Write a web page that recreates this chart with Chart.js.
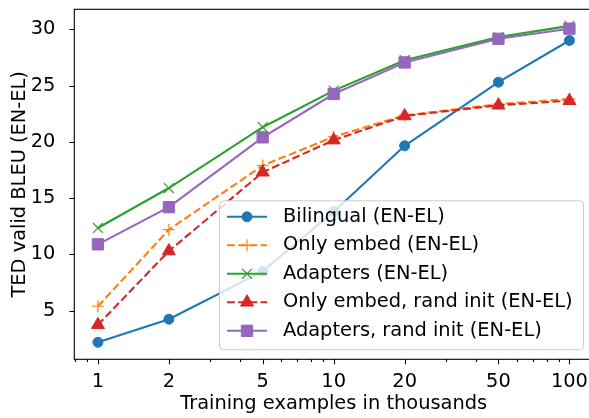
<!DOCTYPE html>
<html>
<head>
<meta charset="utf-8">
<script src="https://cdn.jsdelivr.net/npm/chart.js@4.4.1/dist/chart.umd.min.js"></script>
<style>
  html, body { margin: 0; padding: 0; background: #fff; overflow: hidden; }
  #wrap { width: 589px; height: 418px; overflow: hidden; }
</style>
</head>
<body>
<!-- canvas is a few px wider than the window: the right spine falls just off the picture, as in the original -->
<div id="wrap"><canvas id="chart" width="593" height="418"></canvas></div>
<script>
// x values, thousands of training examples
const examples = [1, 2, 5, 10, 20, 50, 100];

const bilingual     = [2.2, 4.25, 8.5, 13.8, 19.65, 25.3, 29.0];
const onlyEmbed     = [5.4, 12.2, 17.9, 20.45, 22.35, 23.35, 23.8];
const adapters      = [12.35, 15.9, 21.3, 24.55, 27.25, 29.3, 30.3];
const onlyEmbedRand = [3.75, 10.3, 17.3, 20.15, 22.3, 23.25, 23.65];
const adaptersRand  = [10.9, 14.2, 20.4, 24.25, 27.05, 29.15, 30.05];

const seriesLabels = [
    'Bilingual (EN-EL)',
    'Only embed (EN-EL)',
    'Adapters (EN-EL)',
    'Only embed, rand init (EN-EL)',
    'Adapters, rand init (EN-EL)'
];

const xTickValues = [1, 2, 5, 10, 20, 50, 100];
const xMinorTicks = [0.8, 0.9, 3, 4, 6, 7, 8, 9, 30, 40, 60, 70, 80, 90];
const yTickValues = [5, 10, 15, 20, 25, 30];

const FONT = "'DejaVu Sans', sans-serif";
const FSIZE = 19.4;
const DASH = [7.8, 3.4];

Chart.defaults.font.family = FONT;
Chart.defaults.font.size = FSIZE;
Chart.defaults.color = '#000';

function pts(values) {
    return values.map((v, i) => ({x: examples[i], y: v}));
}

const styles = [
    {color: '#1f77b4', pointStyle: 'circle', radius: 5, dash: []},
    {color: '#ff7f0e', pointStyle: 'cross', radius: 6, dash: DASH},
    {color: '#2ca02c', pointStyle: 'crossRot', radius: 7, dash: []},
    {color: '#d62728', pointStyle: 'triangle', radius: 7.5, dash: DASH},
    {color: '#9467bd', pointStyle: 'rect', radius: 8, dash: []}
];

const allSeries = [bilingual, onlyEmbed, adapters, onlyEmbedRand, adaptersRand];

const datasets = allSeries.map((values, i) => ({
    label: seriesLabels[i],
    data: pts(values),
    borderColor: styles[i].color,
    backgroundColor: styles[i].color,
    borderWidth: 2.1,
    borderDash: styles[i].dash,
    pointStyle: styles[i].pointStyle,
    pointRadius: styles[i].radius,
    pointBorderWidth: (styles[i].pointStyle === 'cross' || styles[i].pointStyle === 'crossRot') ? 1.2 : 1,
    pointBackgroundColor: styles[i].color,
    pointBorderColor: styles[i].color,
    tension: 0,
    clip: false,
    order: allSeries.length - i
}));

function noEdgePadding(scale) {
    scale.paddingTop = 0;
    scale.paddingBottom = 0;
    scale.paddingLeft = 0;
    scale.paddingRight = 0;
}

// spines and tick marks, drawn like matplotlib
const axesPlugin = {
    id: 'axesFrame',
    afterDatasetsDraw(chart) {
        const {ctx, chartArea: a, scales: {x, y}} = chart;
        ctx.save();
        ctx.strokeStyle = '#000';
        ctx.lineWidth = 1.1;
        ctx.setLineDash([]);
        ctx.beginPath();
        for (const v of xTickValues) {
            const px = Math.round(x.getPixelForValue(v)) + 0.5;
            ctx.moveTo(px, a.bottom);
            ctx.lineTo(px, a.bottom + 4.9);
        }
        for (const v of xMinorTicks) {
            const px = Math.round(x.getPixelForValue(v)) + 0.5;
            ctx.moveTo(px, a.bottom);
            ctx.lineTo(px, a.bottom + 2.8);
        }
        for (const v of yTickValues) {
            const py = Math.round(y.getPixelForValue(v)) + 0.5;
            ctx.moveTo(a.left, py);
            ctx.lineTo(a.left - 4.9, py);
        }
        ctx.stroke();
        ctx.strokeRect(a.left, a.top, a.right - a.left, a.bottom - a.top);
        ctx.restore();
    }
};

// legend box in the lower right of the plot area
const legendPlugin = {
    id: 'boxLegend',
    afterDraw(chart) {
        const {ctx, chartArea: a} = chart;
        const w = 364, h = 149;
        const right = a.right - 10, bottom = a.bottom - 10;
        const left = right - w, top = bottom - h;
        ctx.save();
        ctx.beginPath();
        ctx.roundRect(left + 0.5, top + 0.5, w, h, 4);
        ctx.fillStyle = 'rgba(255,255,255,0.8)';
        ctx.fill();
        ctx.strokeStyle = '#cccccc';
        ctx.lineWidth = 1;
        ctx.stroke();

        chart.data.datasets.forEach((ds, i) => {
            const cy = top + 16.5 + i * 28.5;
            ctx.beginPath();
            ctx.strokeStyle = ds.borderColor;
            ctx.lineWidth = ds.borderWidth;
            ctx.setLineDash(ds.borderDash || []);
            ctx.moveTo(left + 8, cy);
            ctx.lineTo(left + 48, cy);
            ctx.stroke();
            ctx.setLineDash([]);
            ctx.fillStyle = ds.pointBackgroundColor;
            ctx.strokeStyle = ds.pointBorderColor;
            ctx.lineWidth = ds.pointBorderWidth;
            Chart.helpers.drawPoint(ctx, {
                pointStyle: ds.pointStyle,
                radius: ds.pointRadius,
                borderWidth: ds.pointBorderWidth,
                rotation: 0
            }, left + 28, cy);
            ctx.fillStyle = '#000';
            ctx.font = FSIZE + 'px ' + FONT;
            ctx.textBaseline = 'middle';
            ctx.textAlign = 'left';
            ctx.fillText(ds.label, left + 64, cy);
        });
        ctx.restore();
    }
};

new Chart(document.getElementById('chart'), {
    type: 'line',
    data: {datasets: datasets},
    options: {
        responsive: false,
        animation: false,
        events: [],
        layout: {autoPadding: false, padding: {top: 9.3, right: 0, left: 0, bottom: 0}},
        plugins: {
            legend: {display: false},
            tooltip: {enabled: false}
        },
        scales: {
            x: {
                type: 'logarithmic',
                min: 0.794,
                max: 125.9,
                bounds: 'data',
                grid: {display: false},
                border: {display: false},
                afterBuildTicks: (scale) => {
                    scale.ticks = xTickValues.map(v => ({value: v}));
                },
                afterFit: (scale) => { scale.height = 58.7; noEdgePadding(scale); },
                ticks: {
                    autoSkip: false,
                    maxRotation: 0,
                    padding: 3,
                    callback: (v) => String(v)
                },
                title: {
                    display: true,
                    text: 'Training examples in thousands',
                    padding: {top: 0, bottom: 2}
                }
            },
            y: {
                type: 'linear',
                min: 0.69,
                max: 31.77,
                grid: {display: false},
                border: {display: false},
                afterBuildTicks: (scale) => {
                    scale.ticks = yTickValues.map(v => ({value: v}));
                },
                afterFit: (scale) => { scale.width = 74.3; noEdgePadding(scale); },
                ticks: {
                    padding: 11,
                    callback: (v) => String(v)
                },
                title: {
                    display: true,
                    text: 'TED valid BLEU (EN-EL)',
                    padding: {top: 8.5, bottom: 0}
                }
            }
        }
    },
    plugins: [axesPlugin, legendPlugin]
});
</script>
</body>
</html>
